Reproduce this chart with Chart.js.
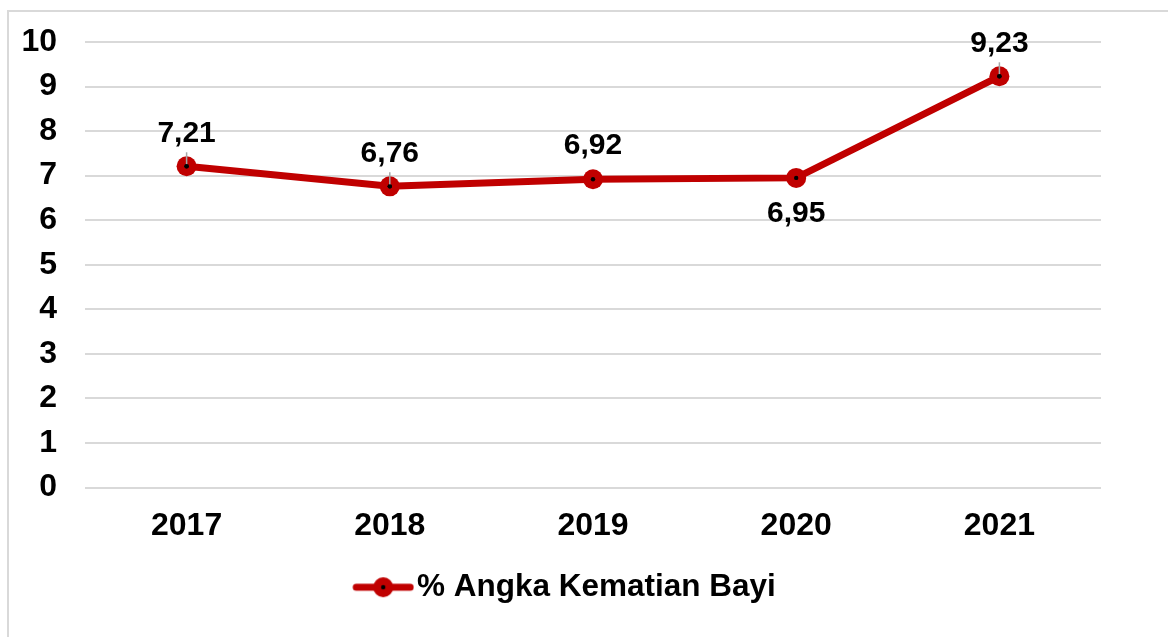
<!DOCTYPE html>
<html>
<head>
<meta charset="utf-8">
<script src="https://cdn.jsdelivr.net/npm/chart.js@4/dist/chart.umd.min.js"></script>
<style>
  html, body { margin: 0; padding: 0; background: #fff; overflow: hidden; }
  #frame { position: absolute; left: 7px; top: 10px; width: 1180px; height: 650px; border: 2px solid #d9d9d9; box-sizing: border-box; }
  #wrap { position: absolute; left: 0; top: 0; width: 1168px; height: 637px; }
</style>
</head>
<body>
<div id="frame"></div>
<div id="wrap"><canvas id="akbChart" width="1168" height="637"></canvas></div>
<script>
// tahun & nilai AKB
var years = ['2017', '2018', '2019', '2020', '2021'];
var akb = [7.21, 6.76, 6.92, 6.95, 9.23];
var labelSide = ['top', 'top', 'top', 'bottom', 'top'];   // posisi label angka
var leader = [true, true, false, false, true];             // garis penunjuk kecil
var yTicks = [0, 1, 2, 3, 4, 5, 6, 7, 8, 9, 10];

var merah = '#c00000';
var fontFam = '"Liberation Sans", Arial, sans-serif';

// ikon legenda: garis + lingkaran + titik hitam (rata kanan, kiri kosong)
function legendIcon() {
    var c = document.createElement('canvas');
    c.width = 102; c.height = 24;
    var g = c.getContext('2d');
    var m = 40;
    g.strokeStyle = merah; g.lineWidth = 7; g.lineCap = 'round';
    g.beginPath(); g.moveTo(m + 4, 12); g.lineTo(m + 58, 12); g.stroke();
    g.fillStyle = merah;
    g.beginPath(); g.arc(m + 31, 12, 10, 0, Math.PI * 2); g.fill();
    g.fillStyle = '#000';
    g.beginPath(); g.arc(m + 31, 12, 2.2, 0, Math.PI * 2); g.fill();
    return c;
}

// titik hitam di tengah marker
var centerDot = {
    id: 'centerDot',
    afterDatasetsDraw: function (chart) {
        var ctx = chart.ctx;
        chart.getDatasetMeta(0).data.forEach(function (pt) {
            ctx.save();
            ctx.fillStyle = '#000';
            ctx.beginPath(); ctx.arc(pt.x, pt.y, 2.2, 0, Math.PI * 2); ctx.fill();
            ctx.restore();
        });
    }
};

// label nilai (koma desimal) + garis penunjuk
var valueLabels = {
    id: 'valueLabels',
    afterDatasetsDraw: function (chart) {
        var ctx = chart.ctx;
        chart.getDatasetMeta(0).data.forEach(function (pt, i) {
            var txt = akb[i].toFixed(2).replace('.', ',');
            var dy = labelSide[i] === 'top' ? -33 : 36;
            ctx.save();
            if (leader[i]) {
                ctx.strokeStyle = '#a6a6a6';
                ctx.lineWidth = 1.5;
                ctx.beginPath(); ctx.moveTo(pt.x, pt.y - 14); ctx.lineTo(pt.x, pt.y); ctx.stroke();
                ctx.fillStyle = '#000';
                ctx.beginPath(); ctx.arc(pt.x, pt.y, 2.2, 0, Math.PI * 2); ctx.fill();
            }
            ctx.fillStyle = '#000';
            ctx.font = 'bold 30px ' + fontFam;
            ctx.textAlign = 'center';
            ctx.textBaseline = 'middle';
            ctx.fillText(txt, pt.x, pt.y + dy);
            ctx.restore();
        });
    }
};

var ctx = document.getElementById('akbChart');
new Chart(ctx, {
    type: 'line',
    data: {
        labels: years,
        datasets: [{
            label: '% Angka Kematian Bayi',
            data: akb,
            borderColor: merah,
            backgroundColor: merah,
            borderWidth: 7,
            pointRadius: 10,
            pointBackgroundColor: merah,
            pointBorderColor: merah,
            pointBorderWidth: 0,
            tension: 0
        }]
    },
    options: {
        responsive: false,
        animation: false,
        devicePixelRatio: 1,
        layout: { padding: { top: 42, right: 67, left: 0, bottom: 24 } },
        plugins: {
            tooltip: { enabled: false },
            legend: {
                position: 'bottom',
                labels: {
                    usePointStyle: true,
                    pointStyle: legendIcon(),
                    pointStyleWidth: 76,
                    color: '#000',
                    padding: 10,
                    font: { family: fontFam, size: 31.5, weight: 'bold' }
                }
            }
        },
        scales: {
            x: {
                offset: true,
                grid: { display: false },
                border: { display: false },
                ticks: { color: '#000', padding: 11, font: { family: fontFam, size: 32, weight: 'bold' } },
                afterFit: function (s) { s.height = 74; }
            },
            y: {
                min: 0,
                max: 10,
                afterBuildTicks: function (s) { s.ticks = yTicks.map(function (v) { return { value: v }; }); },
                grid: { color: '#d9d9d9', lineWidth: 2, drawTicks: false },
                border: { display: false },
                ticks: { color: '#000', padding: 28, font: { family: fontFam, size: 32, weight: 'bold', lineHeight: 0.8 } },
                afterFit: function (s) { s.width = 85; }
            }
        }
    },
    plugins: [centerDot, valueLabels]
});
</script>
</body>
</html>
